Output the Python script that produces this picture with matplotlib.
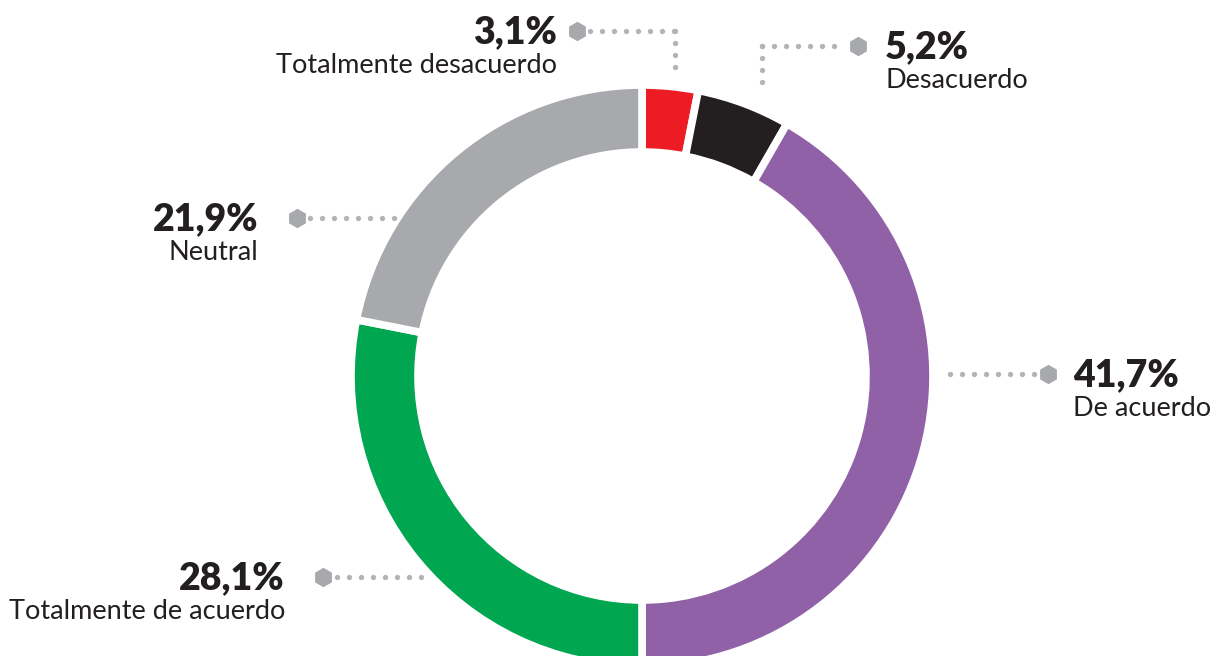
import numpy as np
import matplotlib.pyplot as plt

# Survey answers, clockwise from 12 o'clock
categories = ['Totalmente desacuerdo', 'Desacuerdo', 'De acuerdo',
              'Totalmente de acuerdo', 'Neutral']
values = [3.1, 5.2, 41.7, 28.1, 21.9]
pct_labels = ['3,1%', '5,2%', '41,7%', '28,1%', '21,9%']
colors = ['#ED1C24', '#231F20', '#9161A8', '#00A650', '#A7A9AC']

W, H = 1218, 656
plt.rcParams['font.family'] = ['Lato', 'DejaVu Sans']

fig = plt.figure(figsize=(W / 100, H / 100), dpi=100)
ax = fig.add_axes([0, 0, 1, 1])
ax.set_xlim(0, W)
ax.set_ylim(0, H)
ax.set_aspect('equal')
ax.axis('off')

def Y(y):
    # image pixel row -> axes y
    return H - y

# donut
ax.pie(values, colors=colors, startangle=90, counterclock=False,
       center=(642, Y(376)), radius=291,
       wedgeprops=dict(width=67, edgecolor='white', linewidth=5.5))
ax.set_xlim(0, W)
ax.set_ylim(0, H)

dot_c = '#B1B3B6'
hex_c = '#A7A9AC'

def dots(x0, x1, y):
    xs = np.arange(x0, x1 + 0.1, 12)
    ax.plot(xs, np.full(len(xs), Y(y)), 'o', ms=3.8, color=dot_c, mec='none')

def vdots(x, y0, y1):
    ys = np.arange(y0, y1 + 0.1, 12)
    ax.plot(np.full(len(ys), x), Y(ys), 'o', ms=3.8, color=dot_c, mec='none')

def hexa(x, y):
    ax.plot([x], [Y(y)], 'h', ms=14, color=hex_c, mec='none')

# layout of labels: (hex x, hex y, text x, align)
label_pos = {
    'Totalmente desacuerdo': (577, 31, 557, 'right'),
    'Desacuerdo': (858, 46, 885, 'left'),
    'De acuerdo': (1048, 374, 1073, 'left'),
    'Totalmente de acuerdo': (323, 577, 285, 'right'),
    'Neutral': (297, 218, 258, 'right'),
}

# leader lines
dots(590, 674, 31)
vdots(675, 31, 67)
dots(762, 845, 46)
vdots(762, 46, 82)
dots(950, 1036, 374)
dots(337, 425, 577)
dots(310, 395, 218)

for cat, pl in zip(categories, pct_labels):
    hx, hy, tx, ha = label_pos[cat]
    hexa(hx, hy)
    ax.text(tx, Y(hy + 12), pl, ha=ha, va='baseline', fontsize=27,
            fontweight='heavy', color='#231F20')
    ax.text(tx, Y(hy + 42), cat, ha=ha, va='baseline', fontsize=19.5,
            color='#231F20')

fig.savefig('out.png', dpi=100)
